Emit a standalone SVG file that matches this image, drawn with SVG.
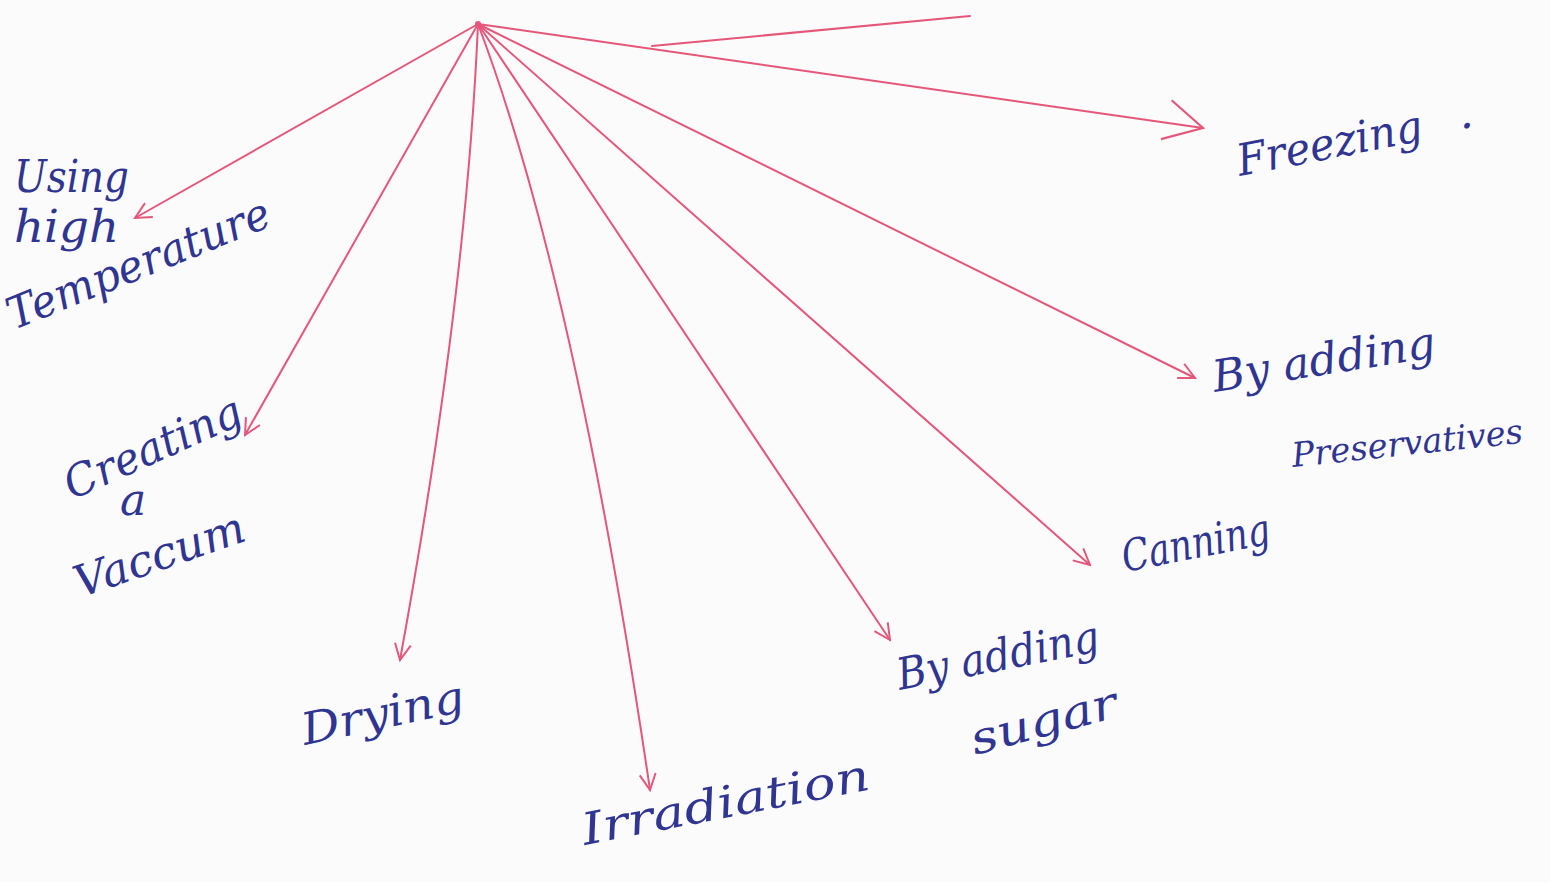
<svg xmlns="http://www.w3.org/2000/svg" width="1550" height="882" viewBox="0 0 1550 882">
<style>
.ink{font-family:"DejaVu Serif","Liberation Serif",serif;font-style:italic;font-size:44px;fill:#2f3590;}
.ln{fill:none;stroke:#e4577a;stroke-width:2;stroke-linecap:round;stroke-linejoin:round;}
</style>
<defs>
<marker id="ah" viewBox="0 0 20 20" refX="18" refY="10" markerWidth="20" markerHeight="20" markerUnits="userSpaceOnUse" orient="auto">
<path d="M2,2 L18,10 L2,18" fill="none" stroke="#e4577a" stroke-width="2"/>
</marker>
<marker id="ahb" viewBox="0 0 50 50" refX="45" refY="25" markerWidth="50" markerHeight="50" markerUnits="userSpaceOnUse" orient="auto">
<path d="M10,2 L45,25 L5,42" fill="none" stroke="#e4577a" stroke-width="2.2"/>
</marker>
</defs>
<rect width="1550" height="882" fill="#fbfbfb"/>
<g id="connectors">
<path class="ln" d="M652,46 L970,16"/>
<path class="ln" d="M478,24 L1203,128" marker-end="url(#ahb)"/>
<path class="ln" d="M478,24 L135,218" marker-end="url(#ah)"/>
<path class="ln" d="M478,24 L245,435" marker-end="url(#ah)"/>
<path class="ln" d="M478,24 Q466,300 400,660" marker-end="url(#ah)"/>
<path class="ln" d="M478,24 Q575,280 650,790" marker-end="url(#ah)"/>
<path class="ln" d="M478,24 L890,640" marker-end="url(#ah)"/>
<path class="ln" d="M478,24 L1090,565" marker-end="url(#ah)"/>
<path class="ln" d="M478,24 L1195,378" marker-end="url(#ah)"/>
</g>
<g id="hub"><circle cx="478" cy="24" r="3" fill="#e4577a"/></g>
<g id="node-high-temperature">
<text class="ink" x="14" y="192" textLength="115" lengthAdjust="spacingAndGlyphs">Using</text>
<text class="ink" x="14" y="242" textLength="105" lengthAdjust="spacingAndGlyphs">high</text>
<text class="ink" transform="translate(14,330) rotate(-22)" textLength="280" lengthAdjust="spacingAndGlyphs">Temperature</text>
</g>
<g id="node-vacuum">
<text class="ink" transform="translate(72,500) rotate(-24)" textLength="190" lengthAdjust="spacingAndGlyphs">Creating</text>
<text class="ink" x="120" y="515">a</text>
<text class="ink" transform="translate(80,598) rotate(-19)" textLength="178" lengthAdjust="spacingAndGlyphs">Vaccum</text>
</g>
<g id="node-drying">
<text class="ink" transform="translate(305,745) rotate(-12)" textLength="165" lengthAdjust="spacingAndGlyphs">Drying</text>
</g>
<g id="node-irradiation">
<text class="ink" transform="translate(585,845) rotate(-11)" textLength="292" lengthAdjust="spacingAndGlyphs">Irradiation</text>
</g>
<g id="node-sugar">
<text class="ink" transform="translate(900,690) rotate(-11)" textLength="205" lengthAdjust="spacingAndGlyphs">By adding</text>
<text class="ink" transform="translate(975,755) rotate(-15)" textLength="150" lengthAdjust="spacingAndGlyphs">sugar</text>
</g>
<g id="node-canning">
<text class="ink" transform="translate(1125,572) rotate(-11)" textLength="150" lengthAdjust="spacingAndGlyphs">Canning</text>
</g>
<g id="node-preservatives">
<text class="ink" transform="translate(1215,392) rotate(-9)" textLength="225" lengthAdjust="spacingAndGlyphs">By adding</text>
<text class="ink" style="font-size:34px" transform="translate(1293,467) rotate(-6)" textLength="232" lengthAdjust="spacingAndGlyphs">Preservatives</text>
</g>
<g id="node-freezing">
<text class="ink" transform="translate(1240,176) rotate(-11)" textLength="188" lengthAdjust="spacingAndGlyphs">Freezing</text>
<text class="ink" x="1460" y="128">.</text>
</g>
</svg>
